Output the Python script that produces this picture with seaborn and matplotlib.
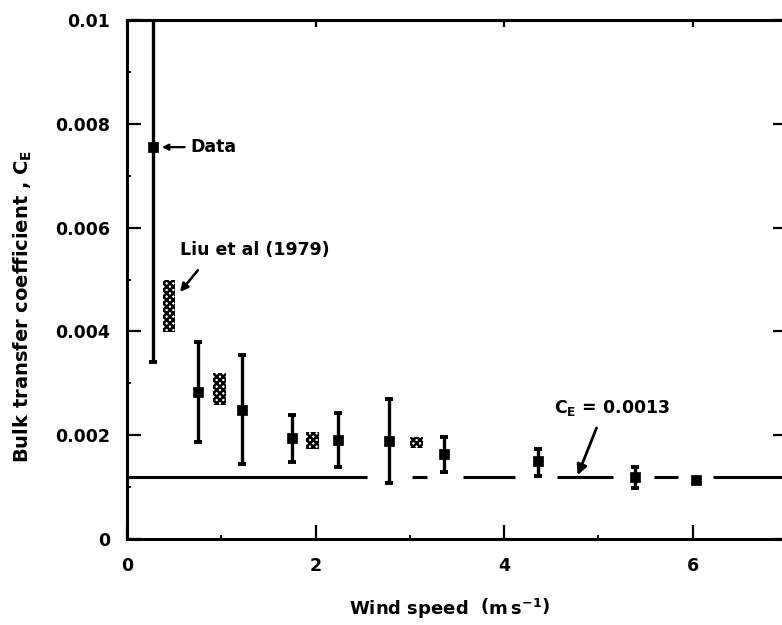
import numpy as np
import pandas as pd
import matplotlib
matplotlib.use("Agg")
import matplotlib.pyplot as plt
import seaborn as sns

# ---- data ----
wind = [0.28, 0.75, 1.22, 1.75, 2.24, 2.78, 3.36, 4.36, 5.39, 6.03]
ce = [0.00755, 0.00284, 0.00249, 0.00194, 0.00191, 0.00189, 0.00163, 0.00150, 0.00120, 0.00114]
ce_low = [0.00341, 0.00187, 0.00145, 0.00149, 0.00139, 0.00108, 0.00129, 0.00121, 0.00098, 0.00114]
ce_high = [0.0125, 0.00380, 0.00355, 0.00239, 0.00243, 0.00270, 0.00196, 0.00173, 0.00138, 0.00114]

liu_wind = [0.445, 0.98, 1.97, 3.07]
liu_low = [0.00399, 0.00258, 0.00173, 0.00175]
liu_high = [0.00499, 0.00320, 0.00207, 0.00197]

ce_const = 0.0012
seg_start = [0.0, 3.02, 3.56, 4.56, 5.59, 6.22]
seg_end = [2.55, 3.18, 4.12, 5.15, 5.84, 7.0]

yticks = [0, 0.002, 0.004, 0.006, 0.008, 0.01]
ytick_labels = ["0", "0.002", "0.004", "0.006", "0.008", "0.01"]
xticks = [0, 2, 4, 6]
xtick_labels = ["0", "2", "4", "6"]

# ---- style ----
sns.set_theme(style="ticks")
plt.rcParams["font.family"] = ["DejaVu Sans"]
plt.rcParams["font.weight"] = "bold"
plt.rcParams["text.color"] = "black"
plt.rcParams["axes.labelcolor"] = "black"
plt.rcParams["xtick.color"] = "black"
plt.rcParams["ytick.color"] = "black"
plt.rcParams["mathtext.fontset"] = "custom"
plt.rcParams["mathtext.rm"] = "DejaVu Sans:bold"
plt.rcParams["mathtext.it"] = "DejaVu Sans:bold"
plt.rcParams["mathtext.bf"] = "DejaVu Sans:bold"
plt.rcParams["hatch.linewidth"] = 1.8

FS = 12.5

fig = plt.figure(figsize=(7.82, 6.25), dpi=100)
ax = fig.add_axes([127 / 782, 86 / 625, 660 / 782, 519 / 625])

df = pd.DataFrame({"wind": wind, "ce": ce, "low": ce_low, "high": ce_high})
has_err = df["high"] > df["low"]
err = df[has_err]
ax.errorbar(err["wind"], err["ce"],
            yerr=[err["ce"] - err["low"], err["high"] - err["ce"]],
            fmt="none", ecolor="black", elinewidth=2.4, capsize=2.6, capthick=2.8,
            zorder=3)
sns.scatterplot(data=df, x="wind", y="ce", marker="s", s=50, color="black",
                edgecolor="black", linewidth=0.5, ax=ax, zorder=4, legend=False)

# Liu et al (1979) hatched blocks
liu_wind_a = np.array(liu_wind)
liu_low_a = np.array(liu_low)
liu_high_a = np.array(liu_high)
ax.bar(liu_wind_a, liu_high_a - liu_low_a, bottom=liu_low_a, width=0.135,
       fill=False, hatch="xxxxx", edgecolor="black", linewidth=0, zorder=2)

# constant C_E line (broken around data)
ax.hlines([ce_const] * len(seg_start), seg_start, seg_end, colors="black",
          linewidth=2.2, zorder=2)

ax.set_xlim(0, 7)
ax.set_ylim(0, 0.01)
ax.set_xticks(xticks)
ax.set_xticklabels(xtick_labels)
ax.set_yticks(yticks)
ax.set_yticklabels(ytick_labels)
ax.set_xticks([1, 3, 5], minor=True)
ax.set_yticks([0.001, 0.003, 0.005, 0.007, 0.009], minor=True)

for sp in ax.spines.values():
    sp.set_linewidth(2.2)
    sp.set_color("black")

ax.tick_params(axis="both", which="major", direction="in", length=10, width=1.6,
               labelsize=FS, pad=12, colors="black")
ax.tick_params(axis="both", which="minor", direction="in", length=3, width=1.4)
ax.tick_params(axis="y", which="both", right=True)
ax.tick_params(axis="x", which="major", pad=13)

top = ax.secondary_xaxis("top")
top.set_xticks(xticks)
top.tick_params(direction="in", length=5, width=1.6, labeltop=False)
top.spines["top"].set_linewidth(2.2)

for lab in ax.get_xticklabels() + ax.get_yticklabels():
    lab.set_fontweight("bold")

ax.set_xlabel(r"Wind speed  $\left(\mathrm{m\,s^{-1}}\right)$", fontsize=13,
              fontweight="bold", color="black")
ax.xaxis.set_label_coords(0.488, -0.135)
ax.xaxis.label.set_verticalalignment("center")
ax.set_ylabel(r"Bulk transfer coefficient , C$_\mathrm{E}$", fontsize=14,
              fontweight="bold", color="black")
ax.yaxis.set_label_coords(-0.158, 0.449)
ax.yaxis.label.set_verticalalignment("center")

# annotations
ax.annotate("Data", xy=(0.37, 0.00755), xytext=(0.675, 0.00755),
            fontsize=FS, fontweight="bold", va="center", ha="left", color="black",
            arrowprops=dict(arrowstyle="-|>", color="black", lw=1.6,
                            mutation_scale=9, shrinkA=2, shrinkB=0))
ax.annotate("Liu et al (1979)", xy=(0.56, 0.00557), xytext=(0.56, 0.00557),
            fontsize=FS, fontweight="bold", va="center", ha="left", color="black")
ax.annotate("", xy=(0.562, 0.00476), xytext=(0.753, 0.00518),
            arrowprops=dict(arrowstyle="-|>", color="black", lw=1.8,
                            mutation_scale=12, shrinkA=0, shrinkB=0))
ax.annotate(r"C$_\mathrm{E}$ = 0.0013", xy=(4.53, 0.00252),
            fontsize=FS, fontweight="bold", va="center", ha="left", color="black")
ax.annotate("", xy=(4.78, 0.00123), xytext=(4.98, 0.00214),
            arrowprops=dict(arrowstyle="-|>", color="black", lw=2.0,
                            mutation_scale=15, shrinkA=0, shrinkB=0))

ax.set_facecolor("white")
fig.patch.set_facecolor("white")
fig.savefig("out.png", dpi=100, facecolor="white")
